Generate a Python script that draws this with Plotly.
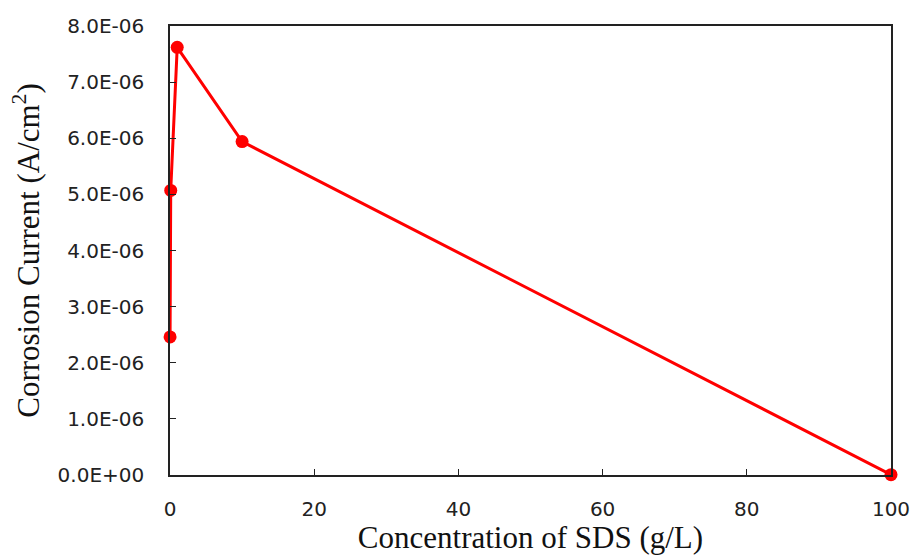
import plotly.graph_objects as go

conc = [0.01, 0.1, 1, 10, 100]
current = [2.46e-6, 5.07e-6, 7.62e-6, 5.94e-6, 0.005e-6]
y_ticks = [0, 1e-6, 2e-6, 3e-6, 4e-6, 5e-6, 6e-6, 7e-6, 8e-6]
y_tick_text = ["0.0E+00", "1.0E-06", "2.0E-06", "3.0E-06", "4.0E-06",
               "5.0E-06", "6.0E-06", "7.0E-06", "8.0E-06"]
x_ticks = [0, 20, 40, 60, 80, 100]

fig = go.Figure()
fig.add_trace(go.Scatter(
    x=conc, y=current, mode="lines+markers",
    line=dict(color="#ff0000", width=3),
    marker=dict(color="#ff0000", size=13),
    cliponaxis=False, showlegend=False,
))

fig.update_layout(
    width=922, height=555,
    margin=dict(l=170, r=24, t=26, b=80),
    paper_bgcolor="white", plot_bgcolor="white",
    font=dict(family="DejaVu Sans", size=20, color="#222"),
)
fig.update_xaxes(
    range=[0, 100], tickvals=x_ticks, ticks="inside", ticklen=6,
    tickcolor="#222", showline=True, linecolor="#222", linewidth=1.5,
    mirror=True, showgrid=False, zeroline=False, ticklabelstandoff=15,
    tickfont=dict(family="DejaVu Sans", size=20, color="#222"),
    title=dict(text="Concentration of SDS (g/L)",
               font=dict(family="Liberation Serif", size=31, color="#111"),
               standoff=0),
)
fig.update_yaxes(
    range=[0, 8e-6], tickvals=y_ticks, ticktext=y_tick_text,
    ticks="inside", ticklen=6, tickcolor="#222",
    showline=True, linecolor="#222", linewidth=1.5, mirror=True,
    showgrid=False, zeroline=False, ticklabelstandoff=20,
    tickfont=dict(family="DejaVu Sans", size=20, color="#222"),
    title=dict(text="Corrosion Current (A/cm<sup>2</sup>)",
               font=dict(family="Liberation Serif", size=31, color="#111"),
               standoff=9),
)

fig.write_html("out.html")
